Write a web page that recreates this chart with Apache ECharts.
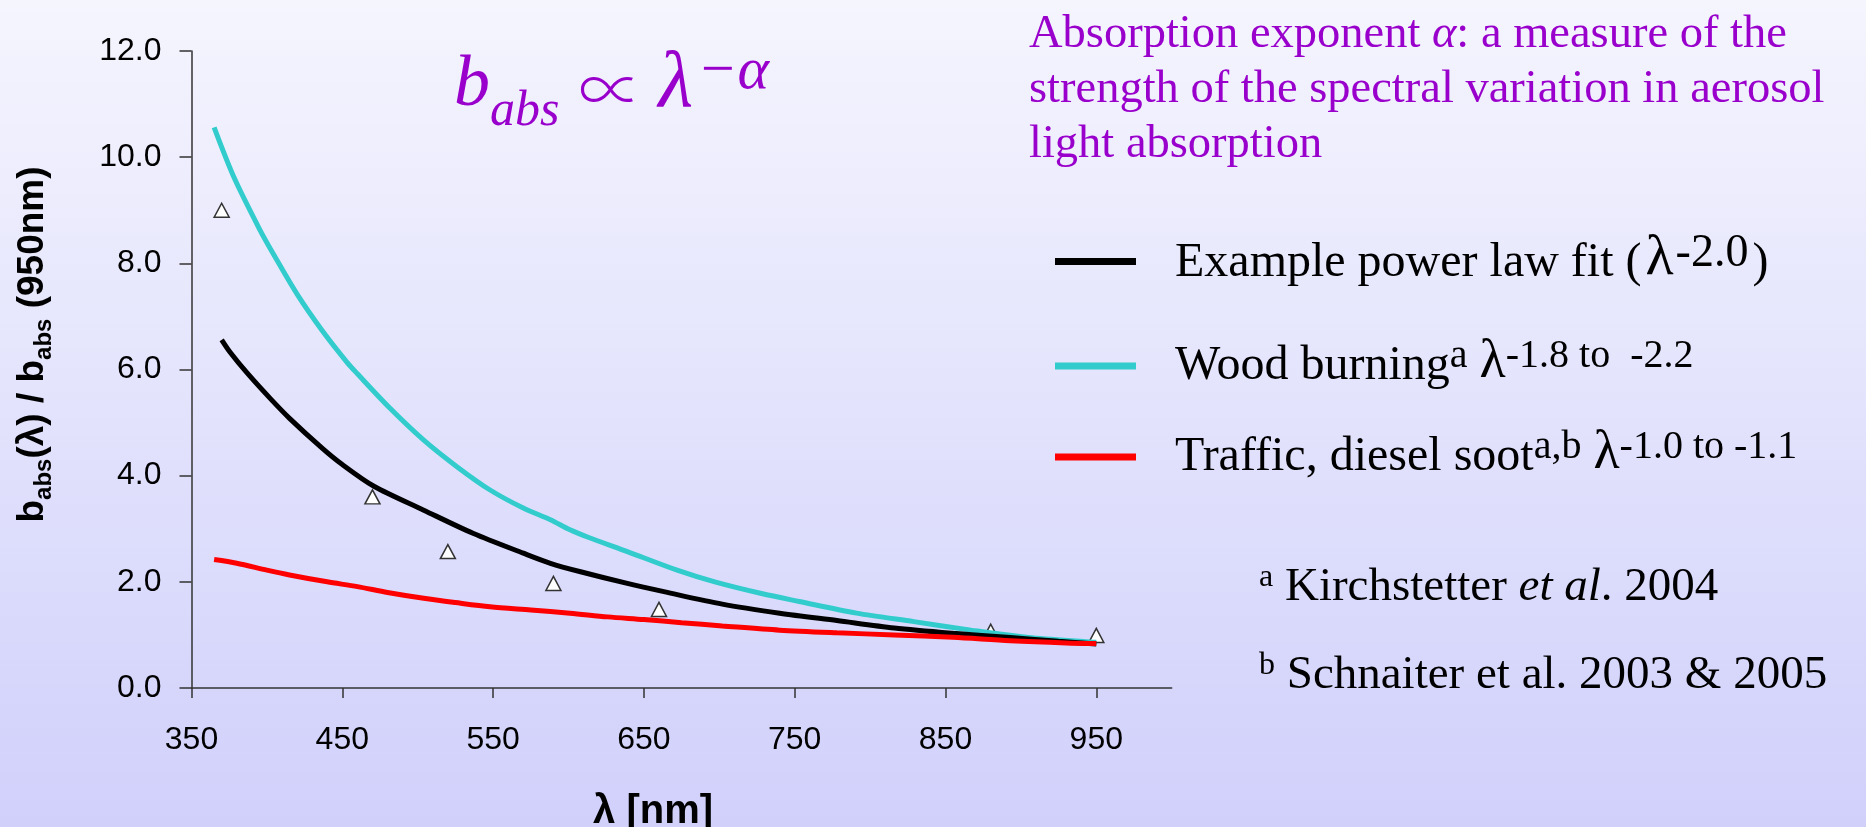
<!DOCTYPE html>
<html>
<head>
<meta charset="utf-8">
<script src="https://cdn.jsdelivr.net/npm/echarts@6/dist/echarts.min.js"></script>
<style>
  html, body { margin: 0; padding: 0; background: #E2E2FC; }
  #chart { width: 1866px; height: 827px; }
</style>
</head>
<body>
<div id="chart"></div>
<script>
// ---- data ----
const xTicks = [350, 450, 550, 650, 750, 850, 950];
const yTicks = [0, 2, 4, 6, 8, 10, 12];

const fitNm  = [370, 376, 387, 402, 415, 437, 450, 471, 504, 537, 570, 588, 608, 639, 664, 702, 740, 778, 816, 855, 893, 925, 950];
const fitVal = [6.56, 6.31, 5.93, 5.46, 5.08, 4.51, 4.21, 3.80, 3.35, 2.91, 2.54, 2.35, 2.19, 1.97, 1.81, 1.58, 1.41, 1.27, 1.13, 1.03, 0.95, 0.88, 0.83];

const woodNm  = [365, 378, 395, 404, 420, 437, 453, 460, 482, 504, 526, 548, 570, 588, 601, 613, 639, 672, 697, 728, 753, 791, 829, 867, 905, 943, 950];
const woodVal = [10.56, 9.63, 8.65, 8.19, 7.42, 6.72, 6.14, 5.92, 5.26, 4.67, 4.17, 3.73, 3.39, 3.17, 2.98, 2.84, 2.57, 2.22, 2.00, 1.78, 1.63, 1.41, 1.25, 1.09, 0.95, 0.87, 0.86];

const dieselNm  = [365, 380, 400, 415, 440, 460, 480, 504, 525, 548, 575, 601, 626, 650, 675, 702, 740, 778, 816, 855, 893, 930, 950];
const dieselVal = [2.42, 2.35, 2.22, 2.13, 2.00, 1.91, 1.80, 1.69, 1.61, 1.53, 1.47, 1.41, 1.34, 1.29, 1.23, 1.17, 1.09, 1.04, 1.00, 0.955, 0.89, 0.85, 0.84];

const aethNm  = [370, 470, 520, 590, 660, 880, 950];
const aethVal = [9.0, 3.6, 2.57, 1.97, 1.48, 1.07, 0.99];

const seriesNames = [
  'Example power law fit (λ-2.0)',
  'Wood burning λ-1.8 to -2.2',
  'Traffic, diesel soot λ-1.0 to -1.1'
];
const legendRich = {
  [seriesNames[0]]: '{sp| }{t|Example power law fit (}{l2|λ}{sup2|-2.0}{t|)}',
  [seriesNames[1]]: '{sp| }{t|Wood burning}{sup|a}{t| }{l|λ}{sup|-1.8 to  -2.2}',
  [seriesNames[2]]: '{sp| }{t|Traffic, diesel soot}{sup|a,b}{t| }{l|λ}{sup|-1.0 to -1.1}'
};

const pair = (xs, ys) => xs.map((x, i) => [x, ys[i]]);

const PURPLE = '#9900CC';
const SERIF = "'Liberation Serif', 'Times New Roman', serif";
const SANS = "'Liberation Sans', Arial, sans-serif";
const CJK = "'Noto Sans CJK JP', 'Noto Sans CJK SC', 'DejaVu Serif', serif";

const legendText = {
  fontFamily: SERIF, fontSize: 48, color: '#000', fontWeight: 'normal',
  rich: {
    sp: { width: 34, fontSize: 48, fontFamily: SERIF, verticalAlign: 'bottom', padding: [0, 0, 6, 0] },
    t: { fontFamily: SERIF, fontSize: 48, fontWeight: 'normal', color: '#000', verticalAlign: 'bottom', padding: [0, 0, 6, 0] },
    l: { fontFamily: SERIF, fontSize: 54, fontWeight: 'normal', color: '#000', verticalAlign: 'bottom', padding: [0, 0, 7, 0] },
    l2: { fontFamily: SERIF, fontSize: 58, fontWeight: 'normal', color: '#000', verticalAlign: 'bottom', padding: [0, 0, 6, 4] },
    sup: { fontFamily: SERIF, fontSize: 40, fontWeight: 'normal', color: '#000', verticalAlign: 'bottom', padding: [0, 0, 20, 0] },
    sup2: { fontFamily: SERIF, fontSize: 46, fontWeight: 'normal', color: '#000', verticalAlign: 'bottom', padding: [0, 4, 17, 2] }
  }
};
function mkLegend(name, top) {
  return {
    data: [name], left: 1055, top: top, padding: 0, orient: 'vertical',
    icon: 'rect', itemWidth: 81, itemHeight: 7,
    formatter: n => legendRich[n], textStyle: legendText, selectedMode: false
  };
}

const chart = echarts.init(document.getElementById('chart'));
chart.setOption({
  backgroundColor: {
    type: 'linear', x: 0, y: 0, x2: 0, y2: 1,
    colorStops: [{ offset: 0, color: '#F5F5FE' }, { offset: 1, color: '#D0D0FB' }]
  },
  animation: false,
  title: [
    {
      left: 454, top: 42, padding: 0,
      text: '{b|b}{sub|abs}{sp1| }{op|∝}{sp2| }{lam|λ}{sup|−α}',
      textStyle: {
        fontWeight: 'normal',
        rich: {
          b: { fontFamily: SERIF, fontStyle: 'italic', fontWeight: 'normal', fontSize: 72, color: PURPLE, verticalAlign: 'bottom', padding: [0, 0, 15, 0] },
          sub: { fontFamily: SERIF, fontStyle: 'italic', fontWeight: 'normal', fontSize: 50, color: PURPLE, verticalAlign: 'bottom', padding: [0, 0, 0, 0] },
          sp1: { fontFamily: SERIF, fontWeight: 'normal', fontSize: 36, width: 19, color: PURPLE, verticalAlign: 'bottom' },
          sp2: { fontFamily: SERIF, fontWeight: 'normal', fontSize: 36, width: 16, color: PURPLE, verticalAlign: 'bottom' },
          op: { fontFamily: CJK, fontWeight: 300, fontSize: 64, color: PURPLE, verticalAlign: 'bottom', padding: [0, 0, 16, 0] },
          lam: { fontFamily: SERIF, fontStyle: 'italic', fontWeight: 'normal', fontSize: 80, color: PURPLE, verticalAlign: 'bottom', padding: [0, 0, 12, 0] },
          sup: { fontFamily: SERIF, fontStyle: 'italic', fontWeight: 'normal', fontSize: 60, color: PURPLE, verticalAlign: 'bottom', padding: [0, 0, 35, 4] }
        }
      }
    },
    {
      left: 1029, top: 7, padding: 0,
      text: '{t|Absorption exponent }{i|α}{t|: a measure of the}\n{t|strength of the spectral variation in aerosol}\n{t|light absorption}',
      textStyle: {
        fontWeight: 'normal',
        rich: {
          t: { fontFamily: SERIF, fontWeight: 'normal', fontSize: 46.5, color: PURPLE, lineHeight: 55 },
          i: { fontFamily: SERIF, fontStyle: 'italic', fontWeight: 'normal', fontSize: 46.5, color: PURPLE, lineHeight: 55 }
        }
      }
    },
    {
      left: 1259, top: 562, padding: 0,
      text: '{sup|a}{t| Kirchstetter }{it|et al}{t|. 2004}',
      textStyle: {
        fontWeight: 'normal',
        rich: {
          t: { fontFamily: SERIF, fontWeight: 'normal', fontSize: 47, color: '#000', verticalAlign: 'bottom' },
          it: { fontFamily: SERIF, fontStyle: 'italic', fontWeight: 'normal', fontSize: 47, color: '#000', verticalAlign: 'bottom' },
          sup: { fontFamily: SERIF, fontWeight: 'normal', fontSize: 32, color: '#000', verticalAlign: 'bottom', padding: [0, 0, 17, 0] }
        }
      }
    },
    {
      left: 1259, top: 650, padding: 0,
      text: '{sup|b}{t| Schnaiter et al. 2003 & 2005}',
      textStyle: {
        fontWeight: 'normal',
        rich: {
          t: { fontFamily: SERIF, fontWeight: 'normal', fontSize: 47, color: '#000', verticalAlign: 'bottom' },
          sup: { fontFamily: SERIF, fontWeight: 'normal', fontSize: 32, color: '#000', verticalAlign: 'bottom', padding: [0, 0, 17, 0] }
        }
      }
    }
  ],
  legend: [
    mkLegend(seriesNames[0], 229.5),
    mkLegend(seriesNames[1], 335.5),
    mkLegend(seriesNames[2], 426.5)
  ],
  grid: { left: 191.5, right: 694.3, top: 51, bottom: 139, containLabel: false, outerBoundsMode: 'none' },
  xAxis: {
    type: 'value', min: 350, max: 1000,
    name: '{l|λ [nm]}',
    nameLocation: 'middle', nameGap: 104,
    nameTextStyle: {
      padding: [0, 57, 0, 0],
      rich: { l: { fontFamily: SANS, fontWeight: 'bold', fontSize: 40, color: '#000' } }
    },
    axisLine: { show: true, lineStyle: { color: '#333', width: 1.5 } },
    axisTick: { show: true, inside: false, length: 10, customValues: xTicks, lineStyle: { color: '#333', width: 1.5 } },
    axisLabel: { customValues: xTicks, margin: 36, fontFamily: SANS, fontSize: 32, color: '#000' },
    splitLine: { show: false }
  },
  yAxis: {
    type: 'value', min: 0, max: 12,
    name: '{b|b}{s|abs}{b|(λ) / b}{s|abs}{b| (950nm)}',
    nameLocation: 'middle', nameRotate: 90, nameGap: 135,
    nameTextStyle: {
      padding: [0, 0, 0, 50],
      rich: {
        b: { fontFamily: SANS, fontWeight: 'bold', fontSize: 37, color: '#000', verticalAlign: 'bottom', padding: [0, 0, 5, 0] },
        s: { fontFamily: SANS, fontWeight: 'bold', fontSize: 24, color: '#000', verticalAlign: 'bottom', padding: [0, 0, 0, 0] }
      }
    },
    axisLine: { show: true, lineStyle: { color: '#333', width: 1.5 } },
    axisTick: { show: true, inside: false, length: 12, customValues: yTicks, lineStyle: { color: '#333', width: 1.5 } },
    axisLabel: { customValues: yTicks, margin: 30, fontFamily: SANS, fontSize: 32, color: '#000', formatter: v => v.toFixed(1) },
    splitLine: { show: false }
  },
  series: [
    {
      name: 'Aethalometer', type: 'scatter', data: pair(aethNm, aethVal),
      symbol: 'triangle', symbolSize: [15, 14],
      itemStyle: { color: '#FFFFFF', borderColor: '#333', borderWidth: 1.5, opacity: 1 },
      z: 1
    },
    {
      name: seriesNames[0], type: 'line', data: pair(fitNm, fitVal),
      showSymbol: false, smooth: 0.3, color: '#000000',
      lineStyle: { color: '#000000', width: 5 }, z: 3
    },
    {
      name: seriesNames[1], type: 'line', data: pair(woodNm, woodVal),
      showSymbol: false, smooth: 0.3, color: '#33CCCC',
      lineStyle: { color: '#33CCCC', width: 5 }, z: 2
    },
    {
      name: seriesNames[2], type: 'line', data: pair(dieselNm, dieselVal),
      showSymbol: false, smooth: 0.3, color: '#FF0000',
      lineStyle: { color: '#FF0000', width: 5 }, z: 4
    }
  ]
});
</script>
</body>
</html>
